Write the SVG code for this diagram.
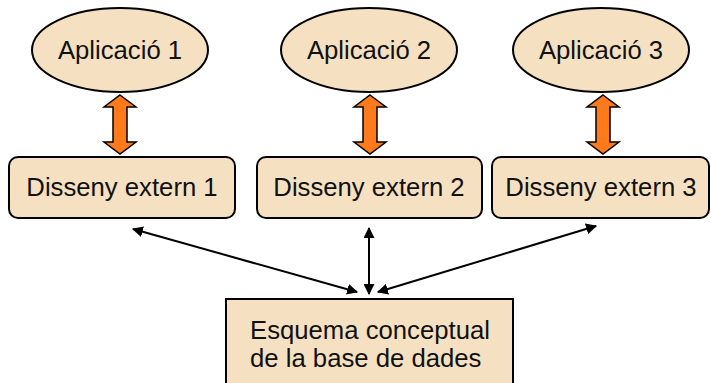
<svg xmlns="http://www.w3.org/2000/svg" width="711" height="383" viewBox="0 0 711 383">
<defs>
<style>
.node{fill:#F5E1C2;stroke:#000;stroke-width:2}
.t{font-family:"Liberation Sans",Arial,sans-serif;font-size:25.7px;fill:#111}
.oa{fill:#FF7A1A;stroke:#000;stroke-width:1.5;stroke-linejoin:miter}
.con{stroke:#000;stroke-width:2;fill:none;marker-start:url(#ah);marker-end:url(#ah)}
</style>
<marker id="ah" viewBox="0 0 10 10" refX="9" refY="5" markerWidth="5.5" markerHeight="5.5" orient="auto-start-reverse" markerUnits="strokeWidth">
<path d="M0,0 L10,5 L0,10 Z" fill="#000"/>
</marker>
<path id="oarrow" d="M0,0 L16,12 L7,12 L7,47 L16,47 L0,59 L-16,47 L-7,47 L-7,12 L-16,12 Z"/>
</defs>
<rect width="711" height="383" fill="#fff"/>
<g id="app1"><ellipse class="node" cx="120" cy="50" rx="88" ry="42"/><text class="t" x="120" y="59" text-anchor="middle">Aplicació 1</text></g>
<g id="app2"><ellipse class="node" cx="369" cy="50" rx="88" ry="42"/><text class="t" x="369" y="59" text-anchor="middle">Aplicació 2</text></g>
<g id="app3"><ellipse class="node" cx="601" cy="50" rx="88" ry="42"/><text class="t" x="601" y="59" text-anchor="middle">Aplicació 3</text></g>
<g id="ext1"><rect class="node" x="9" y="157" width="226" height="61" rx="9"/><text class="t" x="122" y="196" text-anchor="middle">Disseny extern 1</text></g>
<g id="ext2"><rect class="node" x="257" y="157" width="225" height="61" rx="9"/><text class="t" x="369" y="196" text-anchor="middle">Disseny extern 2</text></g>
<g id="ext3"><rect class="node" x="492" y="157" width="217" height="61" rx="9"/><text class="t" x="601" y="196" text-anchor="middle">Disseny extern 3</text></g>
<g id="schema"><rect class="node" x="226" y="299" width="287" height="100"/><text class="t" x="250" y="339">Esquema conceptual</text><text class="t" x="250" y="367">de la base de dades</text></g>
<g id="connectors">
<use href="#oarrow" class="oa" x="120" y="95"/>
<use href="#oarrow" class="oa" x="370" y="95"/>
<use href="#oarrow" class="oa" x="603" y="95"/>
<line class="con" x1="133" y1="229" x2="357" y2="292"/>
<line class="con" x1="369" y1="228" x2="369" y2="294"/>
<line class="con" x1="596" y1="226" x2="378" y2="292"/>
</g>
</svg>
